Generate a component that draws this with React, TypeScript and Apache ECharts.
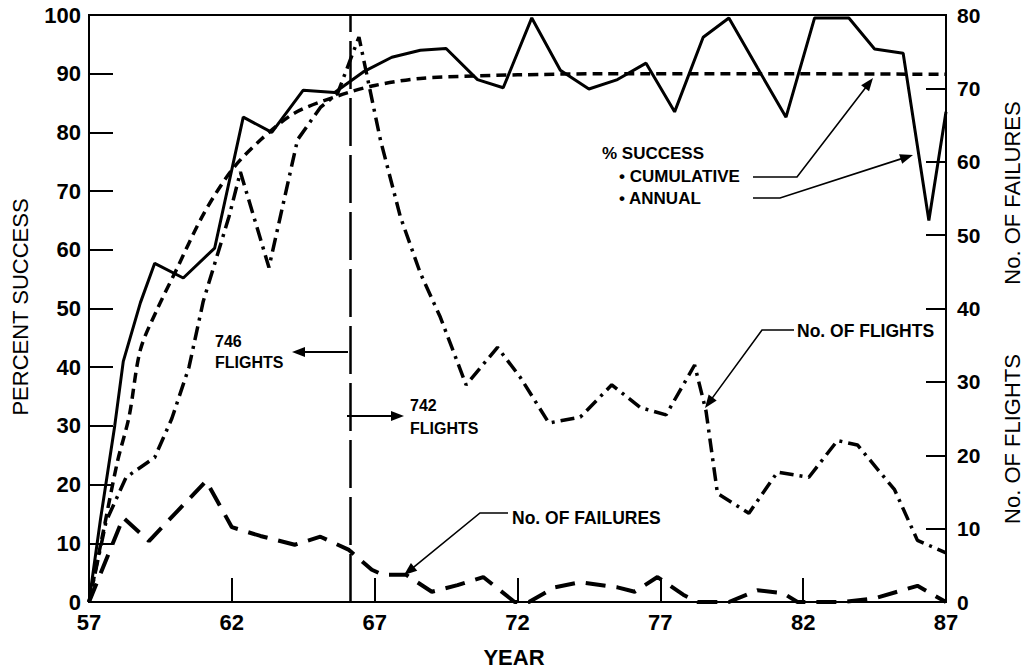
import React, { useEffect, useRef } from "react";
import * as echarts from "echarts";

// ---- data ----
const yearTicks = [57, 62, 67, 72, 77, 82, 87];
const baseYear = 57;

const annualYears = [57, 57.4, 57.9, 58.2, 58.8, 59.3, 60.3, 61.4, 62.4, 63.4, 64.5, 65.6, 66.6, 67.6, 68.6, 69.5, 70.6, 71.5, 72.5, 73.5, 74.5, 75.5, 76.5, 77.5, 78.5, 79.4, 80.4, 81.4, 82.4, 83.6, 84.5, 85.5, 86.4, 87];
const annualPct = [0, 14, 30, 41, 51, 57.7, 55.2, 60.3, 82.6, 80, 87.2, 86.8, 90.3, 92.8, 94, 94.3, 89, 87.6, 99.5, 90.6, 87.4, 89, 91.8, 83.5, 96.2, 99.5, 91, 82.6, 99.5, 99.5, 94.2, 93.5, 65, 83.5];

const cumYears = [57, 57.5, 58, 58.4, 58.8, 59.4, 60, 61, 62, 63, 64.2, 65.7, 67, 68.6, 70.5, 72, 75, 80, 87];
const cumPct = [0, 12, 24, 31.5, 43, 50, 56, 66, 73.6, 78.7, 83.3, 86.2, 88, 89.2, 89.6, 89.8, 90, 90, 89.9];

const flightYears = [57, 57.6, 58.3, 59.3, 59.9, 60.5, 61, 61.9, 62.3, 63.3, 64.3, 65.1, 65.7, 66.45, 67.2, 67.9, 68.6, 69.3, 70.2, 71.3, 72.1, 73.1, 74.2, 75.3, 76.3, 77.2, 78.2, 78.6, 79, 80.1, 81.1, 82.2, 83.2, 83.9, 85.2, 86, 87];
const flights = [0, 11, 17, 19.7, 25, 32, 41, 52.5, 58.6, 45.6, 63, 67.4, 69.3, 77, 63, 52.5, 44.8, 38.8, 29.6, 34.7, 30.6, 24.4, 25.2, 29.6, 26.5, 25.5, 32.3, 26, 14.8, 12.1, 17.7, 17, 22, 21.4, 15.3, 8.4, 6.7];

const failYears = [57, 58.2, 59.1, 61.1, 62, 63, 64.2, 65.1, 66.1, 66.9, 67.3, 68.1, 69, 69.9, 70.8, 71.9, 72.4, 73.3, 74.2, 75.5, 76.1, 76.9, 77.8, 78.3, 79.4, 80.4, 81.3, 81.8, 83.4, 84.5, 86, 87];
const failures = [0, 11.5, 8.3, 16.5, 10.2, 9, 7.8, 8.9, 7.1, 4.4, 3.7, 3.7, 1.4, 2.3, 3.4, 0, 0, 2, 2.7, 2, 1.4, 3.4, 1, 0, 0, 1.6, 1.2, 0, 0, 0.5, 2.2, 0];

const dividerYear = 66.15;

const FONT = "Liberation Sans, Arial, sans-serif";

function pairs(xs: number[], ys: number[]) {
  return xs.map((x, i) => [x - baseYear, ys[i]]);
}

function arrow(pts: number[][], lw = 1.6, headLen = 13, headW = 5) {
  const n = pts.length;
  const tip = pts[n - 1];
  const prev = pts[n - 2];
  const dx = tip[0] - prev[0];
  const dy = tip[1] - prev[1];
  const len = Math.hypot(dx, dy);
  const ux = dx / len, uy = dy / len;
  const bx = tip[0] - ux * headLen, by = tip[1] - uy * headLen;
  const px = -uy * headW, py = ux * headW;
  const linePts = pts.slice(0, n - 1).concat([[bx + ux * 2, by + uy * 2]]);
  return [
    { type: "polyline", shape: { points: linePts }, style: { stroke: "#000", lineWidth: lw, fill: null }, z: 100 },
    { type: "polygon", shape: { points: [tip, [bx + px, by + py], [bx - px, by - py]] }, style: { fill: "#000" }, z: 100 },
  ];
}

function txt(x: number, y: number, text: string, size: number, weight = "bold", extra: any = {}) {
  return {
    type: "text",
    x,
    y,
    z: 100,
    ...extra,
    style: {
      text,
      fill: "#000",
      font: `${weight} ${size}px ${FONT}`,
      textAlign: extra.align || "left",
      textVerticalAlign: "middle",
    },
  };
}

export default function App() {
  const ref = useRef<HTMLDivElement>(null);
  useEffect(() => {
    if (!ref.current) return;
    const chart = echarts.init(ref.current, null, { renderer: "svg" });
    const option: any = {
      animation: false,
      backgroundColor: "#fff",
      grid: { left: 89, right: 83, top: 15, bottom: 70, show: true, borderColor: "#000", borderWidth: 2, backgroundColor: "transparent" },
      xAxis: {
        type: "value",
        min: 0,
        max: 30,
        interval: 5,
        axisLine: { show: true, lineStyle: { color: "#000", width: 2 } },
        axisTick: { show: true, inside: true, length: 24, lineStyle: { color: "#000", width: 2 } },
        splitLine: { show: false },
        axisLabel: {
          color: "#000",
          fontFamily: FONT,
          fontWeight: "bold",
          fontSize: 22,
          lineHeight: 20,
          margin: 10,
          formatter: (v: number) => String(yearTicks[Math.round(v / 5)] ?? v + baseYear),
        },
      },
      yAxis: [
        {
          type: "value",
          min: 0,
          max: 100,
          interval: 10,
          axisLine: { show: true, lineStyle: { color: "#000", width: 2 } },
          axisTick: { show: true, inside: true, length: 24, lineStyle: { color: "#000", width: 2 } },
          splitLine: { show: false },
          axisLabel: { color: "#000", fontFamily: FONT, fontWeight: "bold", fontSize: 22, lineHeight: 20, margin: 8 },
        },
        {
          type: "value",
          min: 0,
          max: 80,
          interval: 10,
          position: "right",
          axisLine: { show: true, lineStyle: { color: "#000", width: 2 } },
          axisTick: { show: true, inside: true, length: 20, lineStyle: { color: "#000", width: 2 } },
          splitLine: { show: false },
          axisLabel: { color: "#000", fontFamily: FONT, fontWeight: "bold", fontSize: 21, lineHeight: 20, margin: 11 },
        },
      ],
      series: [
        {
          name: "ANNUAL",
          type: "line",
          yAxisIndex: 0,
          data: pairs(annualYears, annualPct),
          showSymbol: false,
          lineStyle: { color: "#000", width: 3, type: "solid" },
          z: 5,
        },
        {
          name: "CUMULATIVE",
          type: "line",
          yAxisIndex: 0,
          data: pairs(cumYears, cumPct),
          showSymbol: false,
          smooth: 0.3,
          lineStyle: { color: "#000", width: 3.5, type: [10, 6] },
          z: 4,
          markLine: {
            silent: true,
            symbol: "none",
            label: { show: false },
            lineStyle: { color: "#000", width: 2.5, type: [48, 9] },
            data: [{ xAxis: dividerYear - baseYear }],
          },
        },
        {
          name: "No. OF FLIGHTS",
          type: "line",
          yAxisIndex: 1,
          data: pairs(flightYears, flights),
          showSymbol: false,
          lineStyle: { color: "#000", width: 3.5, type: [14, 6, 3, 6] },
          z: 3,
        },
        {
          name: "No. OF FAILURES",
          type: "line",
          yAxisIndex: 1,
          data: pairs(failYears, failures),
          showSymbol: false,
          lineStyle: { color: "#000", width: 4, type: [20, 11] },
          z: 3,
        },
      ],
      graphic: [
        txt(20, 307, "PERCENT SUCCESS", 22, "normal", { rotation: Math.PI / 2, align: "center" }),
        txt(514, 657, "YEAR", 22, "bold", { align: "center" }),
        txt(1012, 193, "No. OF FAILURES", 22, "normal", { rotation: Math.PI / 2, align: "center" }),
        txt(1012, 439, "No. OF FLIGHTS", 22, "normal", { rotation: Math.PI / 2, align: "center" }),
        txt(215, 341, "746", 16),
        txt(215, 362, "FLIGHTS", 16),
        txt(410, 405, "742", 16),
        txt(410, 428, "FLIGHTS", 16),
        txt(602, 153, "% SUCCESS", 17),
        txt(619, 176, "• CUMULATIVE", 17),
        txt(619, 198, "• ANNUAL", 17),
        txt(512, 518, "No. OF FAILURES", 17.5),
        txt(797, 331, "No. OF FLIGHTS", 17.5),
        ...arrow([[348, 352], [292, 352]], 2),
        ...arrow([[347, 416], [404, 416]], 2),
        ...arrow([[508, 513], [480, 513], [404, 575]]),
        ...arrow([[794, 330], [762, 330], [705, 408]]),
        ...arrow([[753, 177], [797, 177], [873, 78]]),
        ...arrow([[753, 198], [780, 198], [913, 155]]),
      ],
    };
    chart.setOption(option);
    return () => chart.dispose();
  }, []);
  return <div ref={ref} style={{ position: "absolute", left: 0, top: 0, width: 1029, height: 672 }} />;
}
